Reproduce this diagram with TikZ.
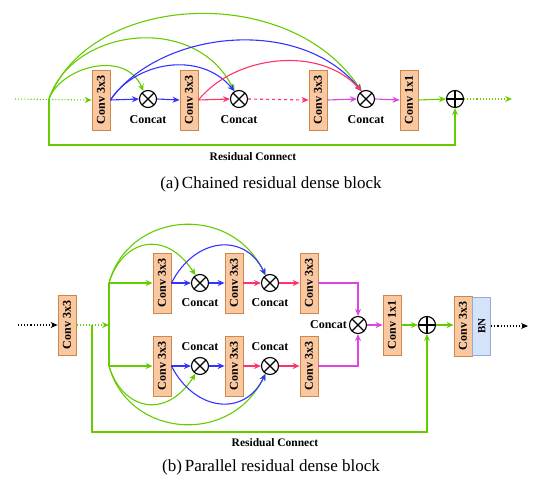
\documentclass[tikz,border=0pt]{standalone}
\usepackage{fontspec}
\setmainfont{Liberation Serif}
\usepackage{xcolor}
\usetikzlibrary{arrows.meta}
\usetikzlibrary{positioning}

\definecolor{convfill}{RGB}{250,200,160}
\definecolor{convdraw}{RGB}{205,135,75}
\definecolor{bnfill}{RGB}{212,226,250}
\definecolor{bndraw}{RGB}{150,172,212}
\definecolor{lgreen}{RGB}{102,204,0}
\definecolor{lblue}{RGB}{51,51,255}
\definecolor{lred}{RGB}{255,51,102}
\definecolor{lmag}{RGB}{220,70,220}

\begin{document}
\begin{tikzpicture}[x=1pt,y=-1pt,
    convbox/.style={draw=convdraw,fill=convfill,line width=0.8pt,minimum width=18pt,minimum height=60pt,inner sep=0pt,font=\bfseries\fontsize{12}{12}\selectfont},
    bnbox/.style={draw=bndraw,fill=bnfill,line width=0.8pt,minimum width=18pt,minimum height=58pt,inner sep=0pt,font=\bfseries\fontsize{11}{11}\selectfont},
    catnode/.style={circle,draw,line width=1.1pt,fill=white,minimum size=17pt,inner sep=0pt,
        path picture={\draw[line width=1.1pt] (path picture bounding box.south west) -- (path picture bounding box.north east)
            (path picture bounding box.north west) -- (path picture bounding box.south east);}},
    addnode/.style={circle,draw,line width=1.1pt,fill=white,minimum size=17pt,inner sep=0pt,
        path picture={\draw[line width=1.1pt] (path picture bounding box.north) -- (path picture bounding box.south)
            (path picture bounding box.west) -- (path picture bounding box.east);}},
    catlabel/.style={inner sep=0pt,font=\bfseries\fontsize{12}{12}\selectfont},
    reslabel/.style={inner sep=0pt,font=\bfseries\fontsize{11.5}{11.5}\selectfont},
    caption/.style={inner sep=0pt,font=\fontsize{17}{17}\selectfont},
    arr/.style={line width=1.1pt,-{Stealth[length=7pt,width=6pt]}},
    gline/.style={arr,draw=lgreen},
    bline/.style={arr,draw=lblue},
    rline/.style={arr,draw=lred},
    mline/.style={arr,draw=lmag}]
\useasboundingbox (0,0) rectangle (542,493);

% (a) chained block
\coordinate (ain) at (15,99);
\coordinate (asp) at (49,99);
\node[convbox] (ac1) at (101,100) {\rotatebox{90}{Conv 3x3}};
\node[catnode] (ax1) at (148,99) {};
\node[catlabel,below=7pt of ax1] {Concat};
\node[convbox] (ac2) at (189,100) {\rotatebox{90}{Conv 3x3}};
\node[catnode] (ax2) at (239,99) {};
\node[catlabel,below=7pt of ax2] {Concat};
\node[convbox] (ac3) at (318,100) {\rotatebox{90}{Conv 3x3}};
\node[catnode] (ax3) at (366,99) {};
\node[catlabel,below=7pt of ax3] {Concat};
\node[convbox] (ac4) at (409,100) {\rotatebox{90}{Conv 1x1}};
\node[addnode] (ap) at (455,99) {};
\coordinate (aout) at (512,99);

\draw[gline,dotted] (ain) -- (ac1.west);
\draw[bline] (ac1.east) -- (ax1.west);
\draw[bline] (ax1.east) -- (ac2.west);
\draw[rline] (ac2.east) -- (ax2.west);
\draw[rline,dashed] (ax2.east) -- (ac3.west);
\draw[mline] (ac3.east) -- (ax3.west);
\draw[mline] (ax3.east) -- (ac4.west);
\draw[gline] (ac4.east) -- (ap.west);
\draw[gline,dotted] (ap.east) -- (aout);
\draw[gline] (asp) -- ++(0,46) -| (ap.south);
\node[reslabel] at (253,157) {Residual Connect};

\draw[gline] (asp) .. controls (60,68) and (125,48) .. (ax1.120);
\draw[gline] (asp) .. controls (72,28) and (195,12) .. (ax2.120);
\draw[gline] (asp) .. controls (90,-8) and (290,-18) .. (ax3.120);
\draw[bline] (ac1.east) .. controls (135,62) and (200,50) .. (ax2.120);
\draw[bline] (ac1.east) .. controls (160,30) and (300,15) .. (ax3.120);
\draw[rline] (ac2.east) .. controls (235,55) and (320,45) .. (ax3.120);

\node[caption] at (271,184) {(a)\,Chained residual dense block};

% (b) parallel block
\coordinate (bin) at (18,325);
\node[convbox] (b0) at (67,325) {\rotatebox{90}{Conv 3x3}};
\coordinate (bsp) at (92,325);
\coordinate (bbr) at (109,325);
\coordinate (bup) at (109,283);
\coordinate (bdn) at (109,366);

\node[convbox] (ua) at (162,283) {\rotatebox{90}{Conv 3x3}};
\node[catnode] (ux1) at (200,283) {};
\node[catlabel,below=6pt of ux1] {Concat};
\node[convbox] (ub) at (234,283) {\rotatebox{90}{Conv 3x3}};
\node[catnode] (ux2) at (270,283) {};
\node[catlabel,below=6pt of ux2] {Concat};
\node[convbox] (uc) at (309,283) {\rotatebox{90}{Conv 3x3}};

\node[convbox] (la) at (162,366) {\rotatebox{90}{Conv 3x3}};
\node[catnode] (lx1) at (200,366) {};
\node[catlabel,above=6pt of lx1] {Concat};
\node[convbox] (lb) at (234,366) {\rotatebox{90}{Conv 3x3}};
\node[catnode] (lx2) at (270,366) {};
\node[catlabel,above=6pt of lx2] {Concat};
\node[convbox] (lc) at (309,366) {\rotatebox{90}{Conv 3x3}};

\node[catnode] (mx) at (358,325) {};
\node[catlabel,left=2pt of mx] {Concat};
\node[convbox] (bc1) at (392,325) {\rotatebox{90}{Conv 1x1}};
\node[addnode] (bp) at (427,325) {};
\node[convbox] (bf) at (463,326) {\rotatebox{90}{Conv 3x3}};
\node[bnbox,right=0pt of bf] (bn) {\rotatebox{90}{BN}};
\coordinate (bout) at (528,326);

\draw[arr,dotted] (bin) -- (b0.west);
\draw[gline,dotted] (b0.east) -- (bbr);
\draw[lgreen,line width=1.1pt] (bup) -- (bdn);
\draw[gline] (bup) -- (ua.west);
\draw[gline] (bdn) -- (la.west);
\draw[bline] (ua.east) -- (ux1.west);
\draw[bline] (ux1.east) -- (ub.west);
\draw[rline] (ub.east) -- (ux2.west);
\draw[rline] (ux2.east) -- (uc.west);
\draw[bline] (la.east) -- (lx1.west);
\draw[bline] (lx1.east) -- (lb.west);
\draw[rline] (lb.east) -- (lx2.west);
\draw[rline] (lx2.east) -- (lc.west);
\draw[mline] (uc.east) -| (mx.north);
\draw[mline] (lc.east) -| (mx.south);
\draw[mline] (mx.east) -- (bc1.west);
\draw[gline] (bc1.east) -- (bp.west);
\draw[gline] (bp.east) -- (bf.west |- bp.east);
\draw[arr,dotted] (bn.east) -- (bout);
\draw[gline] (bsp) -- ++(0,107) -| (bp.south);
\node[reslabel] at (275,443) {Residual Connect};

\draw[gline] (bup) .. controls (122,240) and (165,228) .. (ux1.120);
\draw[gline] (bup) .. controls (128,212) and (230,202) .. (ux2.120);
\draw[bline] (ua.east) .. controls (195,237) and (245,232) .. (ux2.120);
\draw[gline] (bdn) .. controls (122,409) and (165,421) .. (lx1.240);
\draw[gline] (bdn) .. controls (128,437) and (230,447) .. (lx2.240);
\draw[bline] (la.east) .. controls (195,412) and (245,417) .. (lx2.240);

\node[caption] at (271,467) {(b)\,Parallel residual dense block};
\end{tikzpicture}
\end{document}
